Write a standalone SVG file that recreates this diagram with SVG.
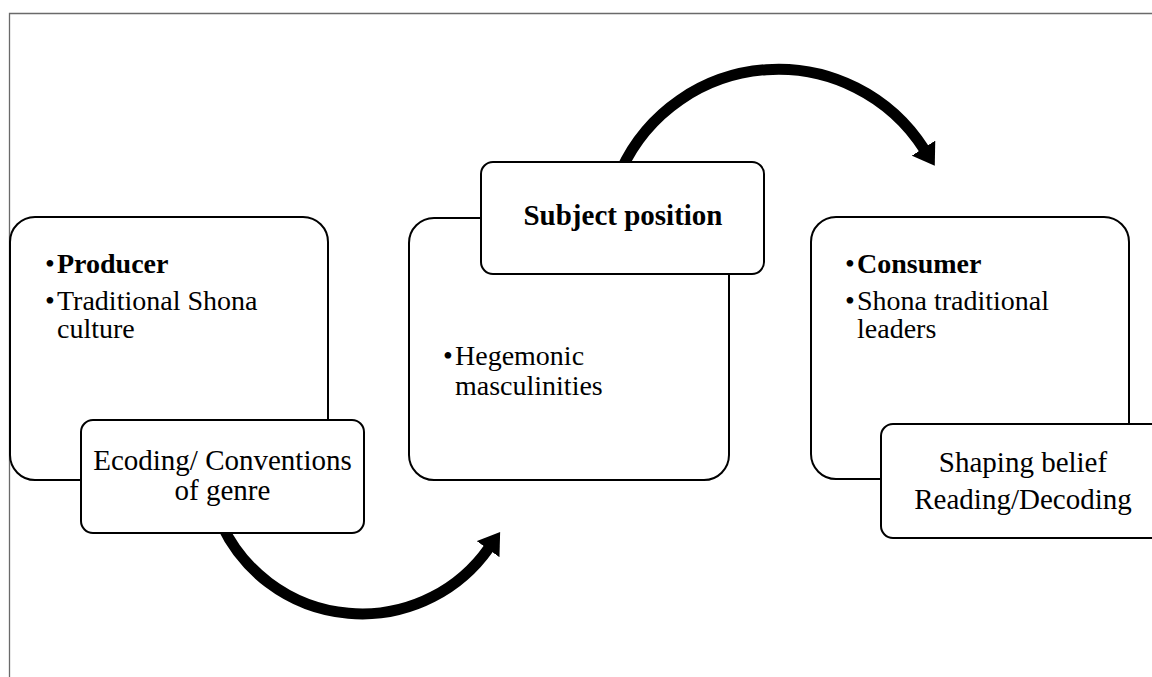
<svg xmlns="http://www.w3.org/2000/svg" width="1152" height="677" viewBox="0 0 1152 677">
<defs>
<style>
.frame{fill:none;stroke:#6a6a6a;stroke-width:1.3}
.big{fill:#fff;stroke:#000;stroke-width:2}
.small{fill:#fff;stroke:#000;stroke-width:2}
.arc{fill:none;stroke:#000;stroke-width:11}
text{font-family:"Liberation Serif","Times New Roman",serif;fill:#000}
.t28{font-size:28px}
.t29{font-size:29px}
.b{font-weight:bold}
</style>
<marker id="head" markerUnits="userSpaceOnUse" markerWidth="22" markerHeight="28" viewBox="0 0 22 28" refX="1" refY="14" orient="auto">
<path d="M0,0 L21,14 L0,28 Z" fill="#000"/>
</marker>
</defs>
<rect width="1152" height="677" fill="#fff"/>
<path class="frame" d="M9.5,677 V13.5 H1152"/>
<g id="connectors">
<path class="arc" d="M221.8,525 A155,155 0 0 0 488.6,548.3" marker-end="url(#head)"/>
<path class="arc" d="M621.1,170 A173,173 0 0 1 924,149" marker-end="url(#head)"/>
</g>
<g id="producer">
<rect class="big" x="10" y="217" width="318" height="263" rx="25"/>
<text class="t28"><tspan x="45" y="273">•</tspan><tspan x="57" y="273" class="b">Producer</tspan></text>
<text class="t28"><tspan x="45" y="310">•</tspan><tspan x="57" y="310">Traditional Shona</tspan></text>
<text class="t28" x="57" y="338">culture</text>
</g>
<g id="encoding">
<rect class="small" x="81" y="420" width="283" height="113" rx="12"/>
<text class="t29" x="222.5" y="470" text-anchor="middle">Ecoding/ Conventions</text>
<text class="t29" x="222.5" y="500" text-anchor="middle">of genre</text>
</g>
<g id="subject">
<rect class="big" x="409" y="218" width="320" height="262" rx="25"/>
<text class="t28"><tspan x="443" y="365">•</tspan><tspan x="455" y="365">Hegemonic</tspan></text>
<text class="t28" x="455" y="395">masculinities</text>
</g>
<g id="subject-position">
<rect class="small" x="481" y="162" width="283" height="112" rx="12"/>
<text class="t29 b" x="623" y="225" text-anchor="middle">Subject position</text>
</g>
<g id="consumer">
<rect class="big" x="811" y="217" width="318" height="262" rx="25"/>
<text class="t28"><tspan x="845" y="273">•</tspan><tspan x="857" y="273" class="b">Consumer</tspan></text>
<text class="t28"><tspan x="845" y="310">•</tspan><tspan x="857" y="310">Shona traditional</tspan></text>
<text class="t28" x="857" y="338">leaders</text>
</g>
<g id="decoding">
<rect class="small" x="881" y="424" width="284" height="114" rx="12"/>
<text class="t29" x="1023" y="472" text-anchor="middle">Shaping belief</text>
<text class="t29" x="1023" y="509" text-anchor="middle">Reading/Decoding</text>
</g>
</svg>
